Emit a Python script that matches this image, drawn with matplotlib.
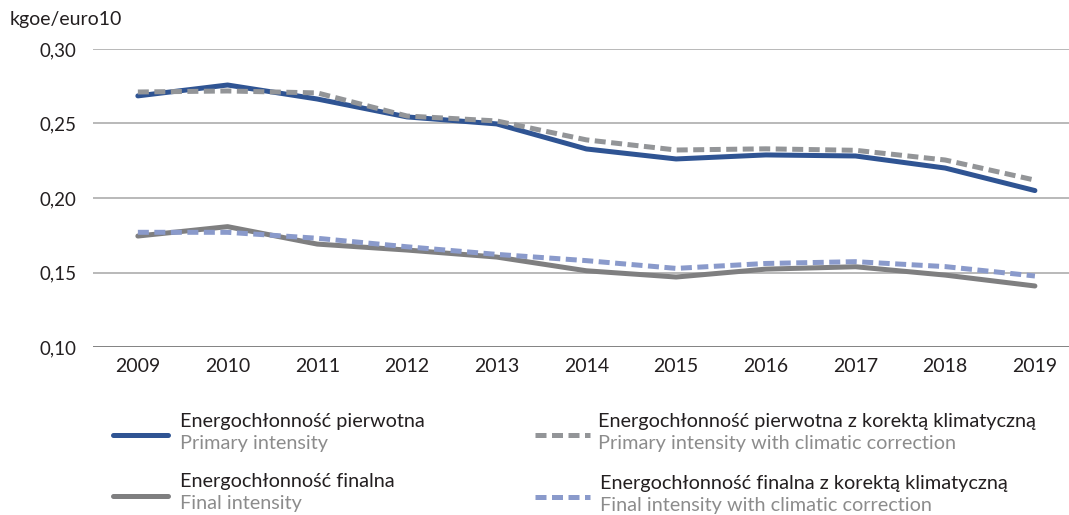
import matplotlib
matplotlib.use("Agg")
import matplotlib.pyplot as plt
from matplotlib.lines import Line2D
from matplotlib.ticker import FuncFormatter

plt.rcParams["font.family"] = ["Lato", "DejaVu Sans"]

# dane
years = [2009, 2010, 2011, 2012, 2013, 2014, 2015, 2016, 2017, 2018, 2019]
primary = [0.2685, 0.2758, 0.2664, 0.2544, 0.2497, 0.2329, 0.2262, 0.2289, 0.2282, 0.2201, 0.2050]
primary_corr = [0.2711, 0.2718, 0.2705, 0.2550, 0.2517, 0.2390, 0.2322, 0.2330, 0.2320, 0.2255, 0.2120]
final = [0.1745, 0.1808, 0.1691, 0.1651, 0.1604, 0.1512, 0.1470, 0.1523, 0.1539, 0.1483, 0.1410]
final_corr = [0.1770, 0.1770, 0.1730, 0.1673, 0.1622, 0.1580, 0.1528, 0.1561, 0.1573, 0.1540, 0.1477]
yticks = [0.10, 0.15, 0.20, 0.25, 0.30]

labels_pl = ["Energochłonność pierwotna", "Energochłonność pierwotna z korektą klimatyczną",
             "Energochłonność finalna", "Energochłonność finalna z korektą klimatyczną"]
labels_en = ["Primary intensity", "Primary intensity with climatic correction",
             "Final intensity", "Final intensity with climatic correction"]

c_blue = "#2f5493"
c_grey_d = "#939598"
c_grey = "#7f7f80"
c_lblue = "#8a9acb"

fig = plt.figure(figsize=(10.69, 5.15), dpi=100)
ax = fig.add_axes([0.087, 0.326, 0.913, 0.579])

lw = 3.6
dash = (2.2, 1.1)
ax.plot(years, primary, color=c_blue, lw=lw, solid_capstyle="round", zorder=3)
ax.plot(years, primary_corr, color=c_grey_d, lw=lw, dashes=dash, dash_capstyle="butt", zorder=4)
ax.plot(years, final, color=c_grey, lw=lw, solid_capstyle="round", zorder=3)
ax.plot(years, final_corr, color=c_lblue, lw=lw, dashes=dash, dash_capstyle="butt", zorder=4)

ax.set_xlim(2008.5, 2019.38)
ax.set_ylim(0.10, 0.30)
ax.set_xticks(years)
ax.set_yticks(yticks)
ax.yaxis.set_major_formatter(FuncFormatter(lambda v, p: f"{v:.2f}".replace(".", ",")))
ax.tick_params(length=0, colors="#231f20")
ax.tick_params(axis="x", pad=8, labelsize=14)
ax.tick_params(axis="y", pad=12, labelsize=13.5)
ax.grid(axis="y", color="#a6a6a6", lw=1.1)
ax.set_axisbelow(True)
for s in ax.spines.values():
    s.set_visible(False)
ax.axhline(0.10, color="#808080", lw=1.3, zorder=1)

fig.text(0.009, 0.962, "kgoe/euro10", fontsize=14, color="#231f20", va="center")

# legenda
colors = [c_blue, c_grey_d, c_grey, c_lblue]
dashed = [False, True, False, True]
hx = [(113, 168), (535, 590), (113, 168), (535, 590)]
tx = [180, 598, 180, 600]
ty = [421, 421, 482, 483]
W, H = 1069, 515
for i in range(4):
    yh = ty[i] + 14
    ln = Line2D([hx[i][0] / W, hx[i][1] / W], [1 - yh / H, 1 - yh / H], transform=fig.transFigure,
                color=colors[i], lw=lw)
    if dashed[i]:
        ln.set_dashes(dash)
        ln.set_dash_capstyle("butt")
    else:
        ln.set_solid_capstyle("round")
    fig.add_artist(ln)
    fig.text(tx[i] / W, 1 - ty[i] / H, labels_pl[i], fontsize=14.3, color="#231f20", va="center")
    fig.text(tx[i] / W, 1 - (ty[i] + 22) / H, labels_en[i], fontsize=14.3, color="#8c8c8c", va="center")

fig.savefig("out.png", dpi=100)
